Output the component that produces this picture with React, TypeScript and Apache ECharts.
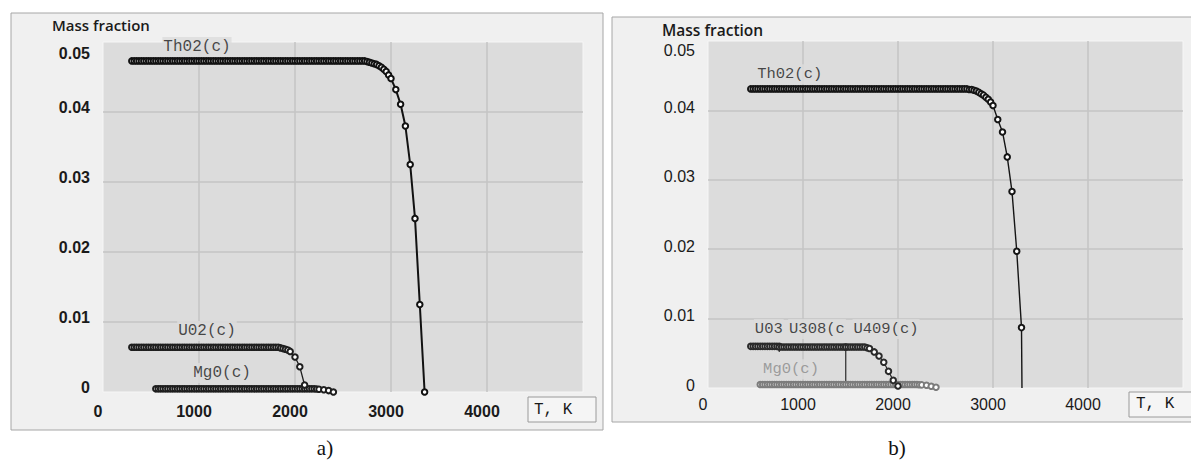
import React, { useEffect, useRef } from "react";
import * as echarts from "echarts";

// ---------- Panel a) data (T in K, mass fraction) ----------
const thoriaA_T = [
  300,325,350,375,400,425,450,475,500,525,
  550,575,600,625,650,675,700,725,750,775,
  800,825,850,875,900,925,950,975,1000,1025,
  1050,1075,1100,1125,1150,1175,1200,1225,1250,1275,
  1300,1325,1350,1375,1400,1425,1450,1475,1500,1525,
  1550,1575,1600,1625,1650,1675,1700,1725,1750,1775,
  1800,1825,1850,1875,1900,1925,1950,1975,2000,2025,
  2050,2075,2100,2125,2150,2175,2200,2225,2250,2275,
  2300,2325,2350,2375,2400,2425,2450,2475,2500,2525,
  2550,2575,2600,2625,2650,2675,2700,2725,2750,2775,
  2800,2825,2850,2875,2900,2925,2950,2975,3000,
  3050,3100,3150,3200,3250,3300,3350,
];
const thoriaA_V = [
  0.0473,0.0473,0.0473,0.0473,0.0473,0.0473,0.0473,0.0473,0.0473,0.0473,
  0.0473,0.0473,0.0473,0.0473,0.0473,0.0473,0.0473,0.0473,0.0473,0.0473,
  0.0473,0.0473,0.0473,0.0473,0.0473,0.0473,0.0473,0.0473,0.0473,0.0473,
  0.0473,0.0473,0.0473,0.0473,0.0473,0.0473,0.0473,0.0473,0.0473,0.0473,
  0.0473,0.0473,0.0473,0.0473,0.0473,0.0473,0.0473,0.0473,0.0473,0.0473,
  0.0473,0.0473,0.0473,0.0473,0.0473,0.0473,0.0473,0.0473,0.0473,0.0473,
  0.0473,0.0473,0.0473,0.0473,0.0473,0.0473,0.0473,0.0473,0.0473,0.0473,
  0.0473,0.0473,0.0473,0.0473,0.0473,0.0473,0.0473,0.0473,0.0473,0.0473,
  0.0473,0.0473,0.0473,0.0473,0.0473,0.0473,0.0473,0.0473,0.0473,0.0473,
  0.0473,0.0473,0.0473,0.0473,0.0473,0.0473,0.0473,0.0473,0.0472,0.0471,
  0.0470,0.0469,0.0468,0.0466,0.0464,0.0461,0.0458,0.0453,0.0448,
  0.0432,0.0411,0.0380,0.0325,0.0248,0.0125,0,
];
const uraniaA_T = [
  300,325,350,375,400,425,450,475,500,525,
  550,575,600,625,650,675,700,725,750,775,
  800,825,850,875,900,925,950,975,1000,1025,
  1050,1075,1100,1125,1150,1175,1200,1225,1250,1275,
  1300,1325,1350,1375,1400,1425,1450,1475,1500,1525,
  1550,1575,1600,1625,1650,1675,1700,1725,1750,1775,
  1800,1825,1850,1875,1900,1925,1950,
  2000,2050,2100,
];
const uraniaA_V = [
  0.0064,0.0064,0.0064,0.0064,0.0064,0.0064,0.0064,0.0064,0.0064,0.0064,
  0.0064,0.0064,0.0064,0.0064,0.0064,0.0064,0.0064,0.0064,0.0064,0.0064,
  0.0064,0.0064,0.0064,0.0064,0.0064,0.0064,0.0064,0.0064,0.0064,0.0064,
  0.0064,0.0064,0.0064,0.0064,0.0064,0.0064,0.0064,0.0064,0.0064,0.0064,
  0.0064,0.0064,0.0064,0.0064,0.0064,0.0064,0.0064,0.0064,0.0064,0.0064,
  0.0064,0.0064,0.0064,0.0064,0.0064,0.0064,0.0064,0.0064,0.0064,0.0064,
  0.0064,0.0064,0.0063,0.0062,0.0061,0.0060,0.0058,
  0.0050,0.0036,0.0010,
];
// shared temperature grid of the Mg0(c) curves (both panels)
const magnesia_T = [
  550,575,600,625,650,675,700,725,750,775,
  800,825,850,875,900,925,950,975,1000,1025,
  1050,1075,1100,1125,1150,1175,1200,1225,1250,1275,
  1300,1325,1350,1375,1400,1425,1450,1475,1500,1525,
  1550,1575,1600,1625,1650,1675,1700,1725,1750,1775,
  1800,1825,1850,1875,1900,1925,1950,1975,2000,2025,
  2050,2075,2100,2125,2150,2175,2200,2225,2250,
  2300,2350,2400,
];
const magnesiaA_V = [
  0.00045,0.00045,0.00045,0.00045,0.00045,0.00045,0.00045,0.00045,0.00045,0.00045,
  0.00045,0.00045,0.00045,0.00045,0.00045,0.00045,0.00045,0.00045,0.00045,0.00045,
  0.00045,0.00045,0.00045,0.00045,0.00045,0.00045,0.00045,0.00045,0.00045,0.00045,
  0.00045,0.00045,0.00045,0.00045,0.00045,0.00045,0.00045,0.00045,0.00045,0.00045,
  0.00045,0.00045,0.00045,0.00045,0.00045,0.00045,0.00045,0.00045,0.00045,0.00045,
  0.00045,0.00045,0.00045,0.00045,0.00045,0.00045,0.00045,0.00045,0.00045,0.00045,
  0.00045,0.00045,0.00045,0.00045,0.00045,0.00045,0.00045,0.00043,0.0004,
  0.00033,0.0002,0,
];

// ---------- Panel b) data ----------
const thoriaB_T = [
  450,475,500,525,550,575,600,625,650,675,
  700,725,750,775,800,825,850,875,900,925,
  950,975,1000,1025,1050,1075,1100,1125,1150,1175,
  1200,1225,1250,1275,1300,1325,1350,1375,1400,1425,
  1450,1475,1500,1525,1550,1575,1600,1625,1650,1675,
  1700,1725,1750,1775,1800,1825,1850,1875,1900,1925,
  1950,1975,2000,2025,2050,2075,2100,2125,2150,2175,
  2200,2225,2250,2275,2300,2325,2350,2375,2400,2425,
  2450,2475,2500,2525,2550,2575,2600,2625,2650,2675,
  2700,2725,2750,2775,2800,2825,2850,2875,2900,2925,
  2950,2975,3000,
  3050,3100,3150,3200,3250,3300,
];
const thoriaB_V = [
  0.0431,0.0431,0.0431,0.0431,0.0431,0.0431,0.0431,0.0431,0.0431,0.0431,
  0.0431,0.0431,0.0431,0.0431,0.0431,0.0431,0.0431,0.0431,0.0431,0.0431,
  0.0431,0.0431,0.0431,0.0431,0.0431,0.0431,0.0431,0.0431,0.0431,0.0431,
  0.0431,0.0431,0.0431,0.0431,0.0431,0.0431,0.0431,0.0431,0.0431,0.0431,
  0.0431,0.0431,0.0431,0.0431,0.0431,0.0431,0.0431,0.0431,0.0431,0.0431,
  0.0431,0.0431,0.0431,0.0431,0.0431,0.0431,0.0431,0.0431,0.0431,0.0431,
  0.0431,0.0431,0.0431,0.0431,0.0431,0.0431,0.0431,0.0431,0.0431,0.0431,
  0.0431,0.0431,0.0431,0.0431,0.0431,0.0431,0.0431,0.0431,0.0431,0.0431,
  0.0431,0.0431,0.0431,0.0431,0.0431,0.0431,0.0431,0.0431,0.0431,0.0431,
  0.0431,0.0431,0.0430,0.0430,0.0429,0.0428,0.0426,0.0424,0.0422,0.0419,
  0.0416,0.0412,0.0407,
  0.0387,0.0369,0.0333,0.0283,0.0197,0.0087,
];
const thoriaB_end = [3305, 0];
const uo3B_T = [450,475,500,525,550,575,600,625,650,675,700,725,750];
const uo3B_V = [0.0060,0.0060,0.0060,0.0060,0.0060,0.0060,0.0060,0.0060,0.0060,0.0060,0.0060,0.0060,0.0060];
const uo3B_end = [750, 0.0052];
const u3o8B_T = [750,775,800,825,850,875,900,925,950,975,1000,1025,1050,1075,1100,1125,1150,1175,1200,1225,1250,1275,1300,1325,1350,1375,1400,1425,1450];
const u3o8B_V = [
  0.0059,0.0059,0.0059,0.0059,0.0059,0.0059,0.0059,0.0059,0.0059,0.0059,
  0.0059,0.0059,0.0059,0.0059,0.0059,0.0059,0.0059,0.0059,0.0059,0.0059,
  0.0059,0.0059,0.0059,0.0059,0.0059,0.0059,0.0059,0.0059,0.0059,
];
const u3o8B_end = [1450, 0.0006];
const u4o9B_T = [1450,1475,1500,1525,1550,1575,1600,1625,1650,1675,1700,1750,1800,1850,1900,1950,2000];
const u4o9B_V = [0.0059,0.0059,0.0059,0.0059,0.0059,0.0059,0.0059,0.0059,0.0059,0.0058,0.0057,0.0052,0.0046,0.0037,0.0024,0.0011,0.0003];
const magnesiaB_V = [
  0.0005,0.0005,0.0005,0.0005,0.0005,0.0005,0.0005,0.0005,0.0005,0.0005,
  0.0005,0.0005,0.0005,0.0005,0.0005,0.0005,0.0005,0.0005,0.0005,0.0005,
  0.0005,0.0005,0.0005,0.0005,0.0005,0.0005,0.0005,0.0005,0.0005,0.0005,
  0.0005,0.0005,0.0005,0.0005,0.0005,0.0005,0.0005,0.0005,0.0005,0.0005,
  0.0005,0.0005,0.0005,0.0005,0.0005,0.0005,0.0005,0.0005,0.0005,0.0005,
  0.0005,0.0005,0.0005,0.0005,0.0005,0.0005,0.0005,0.0005,0.0005,0.0005,
  0.0005,0.0005,0.0005,0.0005,0.0005,0.0005,0.0005,0.00048,0.00045,
  0.0004,0.00025,0.0001,
];

// ---------- in-plot phase labels (anchor in data units) ----------
const labelsA = [
  { text: "Th02(c)", T: 979, v: 0.0493 },
  { text: "U02(c)", T: 1083, v: 0.0087 },
  { text: "Mg0(c)", T: 1240, v: 0.0027 },
];
const labelsB = [
  { text: "Th02(c)", T: 860, v: 0.0452, gray: false },
  { text: "U03", T: 640, v: 0.0085, gray: false },
  { text: "U308(c", T: 1147, v: 0.0085, gray: false },
  { text: "U409(c)", T: 1874, v: 0.0085, gray: false },
  { text: "Mg0(c)", T: 874, v: 0.0027, gray: true },
];

// ---------- axes ----------
const xMin = 0, xMax = 5000, xStep = 1000;
const yMin = 0, yMax = 0.05, yStep = 0.01;
const xAxisTitle = "T, K";
const yAxisTitle = "Mass fraction";

const NUM_FONT = '"Liberation Sans", Arial, sans-serif';
const MONO_FONT = '"Liberation Mono", "DejaVu Sans Mono", monospace';

const zip = (t: number[], v: number[]) => t.map((x, i) => [x, v[i]]);

function chain(
  name: string, g: number, t: number[], v: number[],
  color: string, lw: number, tail?: number[]
) {
  const data: any[] = zip(t, v);
  if (tail) data.push({ value: tail, symbol: "none" });
  return {
    type: "line", name, xAxisIndex: g, yAxisIndex: g, data,
    symbol: "emptyCircle", symbolSize: 5.5, showSymbol: true, showAllSymbol: true,
    lineStyle: { color, width: lw },
    itemStyle: { color, borderColor: color, borderWidth: 1.3 },
    silent: true, z: 3,
  };
}

function labelSeries(g: number, items: any[], size: number) {
  return {
    type: "scatter", xAxisIndex: g, yAxisIndex: g, symbolSize: 1,
    itemStyle: { color: "rgba(0,0,0,0)" }, silent: true, z: 2,
    data: items.map((d) => ({
      value: [d.T, d.v],
      label: {
        show: true, position: "inside", formatter: d.text,
        fontFamily: MONO_FONT, fontSize: size,
        color: d.gray ? "#8a8a8a" : "#1c1c1c",
        backgroundColor: "#dcdcdc", padding: [3, 1, 1, 1],
      },
    })),
  };
}

function yLabelFmt(v: number) {
  if (v === 0) return "{n|0}";
  if (Math.abs(v - yMax) < 1e-9) return "{t|" + v.toFixed(2) + "}";
  return "{n|" + v.toFixed(2) + "}";
}

export default function App() {
  const ref = useRef<HTMLDivElement>(null);
  useEffect(() => {
    if (!ref.current) return;
    const chart = echarts.init(ref.current, undefined, { renderer: "svg" });
    const xAxisCommon = (bold: boolean) => ({
      type: "value", min: xMin, max: xMax, interval: xStep,
      axisLine: { show: false }, axisTick: { show: false },
      splitLine: { show: true, showMinLine: false, showMaxLine: false, lineStyle: { color: "#c4c4c4", width: 1.5 } },
      axisLabel: {
        showMaxLabel: false, margin: bold ? 11 : 8, padding: [0, 10, 0, 0],
        formatter: (v: number) => String(v),
        fontFamily: NUM_FONT, fontSize: 16, fontWeight: bold ? "bold" : "normal",
        color: "#1a1a1a",
      },
    });
    const yAxisCommon = (bold: boolean) => ({
      type: "value", min: yMin, max: yMax, interval: yStep,
      axisLine: { show: false }, axisTick: { show: false },
      splitLine: { show: true, showMinLine: false, showMaxLine: false, lineStyle: { color: "#c4c4c4", width: 1.5 } },
      axisLabel: {
        margin: 13, formatter: yLabelFmt,
        rich: {
          n: { fontFamily: NUM_FONT, fontSize: 16, fontWeight: bold ? "bold" : "normal", color: "#1a1a1a", padding: bold ? [0, 0, 10, 0] : [0, 0, 6, 0] },
          t: { fontFamily: NUM_FONT, fontSize: 16, fontWeight: bold ? "bold" : "normal", color: "#1a1a1a", padding: bold ? [22, 0, 0, 0] : [18, 0, 0, 0] },
        },
      },
    });
    const txt = (text: string, x: number, y: number, font: any) => ({
      type: "text", x, y, silent: true, z: 50,
      style: { text, verticalAlign: "middle", align: "left", ...font },
    });
    chart.setOption({
      animation: false,
      backgroundColor: "#ffffff",
      grid: [
        { left: 103, top: 42, width: 480, height: 350, show: true, backgroundColor: "#dcdcdc", borderColor: "#f6f6f6", borderWidth: 1 },
        { left: 708, top: 41, width: 475, height: 347, show: true, backgroundColor: "#dcdcdc", borderColor: "#f6f6f6", borderWidth: 1 },
      ],
      xAxis: [{ gridIndex: 0, ...xAxisCommon(true) }, { gridIndex: 1, ...xAxisCommon(false) }],
      yAxis: [{ gridIndex: 0, ...yAxisCommon(true) }, { gridIndex: 1, ...yAxisCommon(false) }],
      graphic: [
        { type: "rect", z: -10, silent: true, shape: { x: 11, y: 13, width: 592, height: 417 }, style: { fill: "#f0f0f0", stroke: "#a6a6a6", lineWidth: 1 } },
        { type: "rect", z: -10, silent: true, shape: { x: 612, y: 17, width: 600, height: 405 }, style: { fill: "#f0f0f0", stroke: "#a6a6a6", lineWidth: 1 } },
        txt(yAxisTitle, 52, 25, { fontFamily: '"Open Sans", "Noto Sans", sans-serif', fontWeight: 600, fontSize: 15, fill: "#1a1a1a" }),
        txt(yAxisTitle, 662, 30, { fontFamily: '"Open Sans", "Noto Sans", sans-serif', fontWeight: 600, fontSize: 15.5, fill: "#1a1a1a" }),
        { type: "rect", z: 40, silent: true, shape: { x: 528, y: 397, width: 68, height: 25 }, style: { fill: "#f5f5f5", stroke: "#9a9a9a", lineWidth: 1 } },
        txt(xAxisTitle, 534, 410, { fontFamily: MONO_FONT, fontSize: 16, fill: "#1a1a1a" }),
        { type: "rect", z: 40, silent: true, shape: { x: 1129, y: 392, width: 70, height: 25 }, style: { fill: "#f5f5f5", stroke: "#9a9a9a", lineWidth: 1 } },
        txt(xAxisTitle, 1136, 404, { fontFamily: MONO_FONT, fontSize: 16, fill: "#1a1a1a" }),
        { type: "text", x: 325, y: 448, z: 50, silent: true, style: { text: "a)", align: "center", verticalAlign: "middle", fontFamily: '"Liberation Serif", "DejaVu Serif", serif', fontSize: 21, fill: "#111" } },
        { type: "text", x: 897, y: 448, z: 50, silent: true, style: { text: "b)", align: "center", verticalAlign: "middle", fontFamily: '"Liberation Serif", "DejaVu Serif", serif', fontSize: 21, fill: "#111" } },
      ],
      series: [
        labelSeries(0, labelsA, 16),
        labelSeries(1, labelsB, 15.5),
        chain("Mg0(c) a", 0, magnesia_T, magnesiaA_V, "#1e1e1e", 1.3),
        chain("U02(c) a", 0, uraniaA_T, uraniaA_V, "#1e1e1e", 1.3),
        chain("Th02(c) a", 0, thoriaA_T, thoriaA_V, "#111111", 2),
        chain("Mg0(c) b", 1, magnesia_T, magnesiaB_V, "#7c7c7c", 1.2),
        chain("U03 b", 1, uo3B_T, uo3B_V, "#2a2a2a", 1.2, uo3B_end),
        chain("U308(c) b", 1, u3o8B_T, u3o8B_V, "#2a2a2a", 1.2, u3o8B_end),
        chain("U409(c) b", 1, u4o9B_T, u4o9B_V, "#2a2a2a", 1.2),
        chain("Th02(c) b", 1, thoriaB_T, thoriaB_V, "#151515", 1.4, thoriaB_end),
      ],
    });
    return () => chart.dispose();
  }, []);
  return <div ref={ref} style={{ position: "fixed", left: 0, top: 0, width: 1191, height: 460 }} />;
}
